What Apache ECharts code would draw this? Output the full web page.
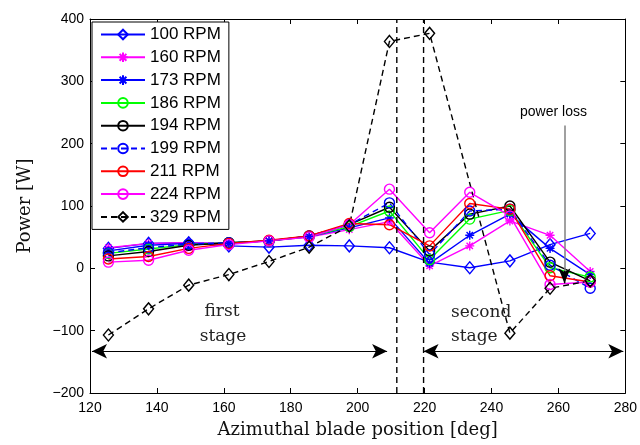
<!DOCTYPE html>
<html>
<head>
<meta charset="utf-8">
<script src="https://cdn.jsdelivr.net/npm/echarts@6/dist/echarts.min.js"></script>
<style>html,body{margin:0;padding:0;background:#fff}#c{width:640px;height:445px}</style>
</head>
<body>
<div id="c"></div>
<script>
// Azimuthal blade positions [deg]
const positions = [125.5, 137.5, 149.5, 161.5, 173.5, 185.5, 197.5, 209.5, 221.5, 233.5, 245.5, 257.5, 269.5];
// Power [W] per rotor speed
const rpm100 = [32, 40, 41, 36, 34, 37, 36, 33, 10, 1, 12, 38, 56];
const rpm160 = [33, 40, 41, 40, 44, 50, 62, 75, 4, 36, 76, 53, -5];
const rpm173 = [28, 37, 40, 40, 44, 51, 65, 81, 8, 53, 87, 32, -10];
const rpm186 = [24, 31, 38, 41, 44, 51, 67, 92, 14, 79, 93, 1, -14];
const rpm194 = [20, 27, 37, 41, 44, 52, 70, 98, 28, 87, 100, 10, -20];
const rpm199 = [25, 33, 39, 41, 44, 52, 70, 105, 22, 92, 95, 5, -32];
const rpm211 = [15, 19, 32, 40, 45, 52, 72, 70, 36, 104, 95, -12, -22];
const rpm224 = [10, 13, 29, 38, 44, 50, 70, 127, 57, 122, 84, -26, -22];
const rpm329 = [-107, -65, -27, -10, 11, 34, 68, 364, 377, null, -104, -32, -20];
const seriesNames = ['100 RPM', '160 RPM', '173 RPM', '186 RPM', '194 RPM', '199 RPM', '211 RPM', '224 RPM', '329 RPM'];
// Stage boundaries [deg]
const stageBounds = [211.7, 219.7];
// Stage arrows [deg] and level [W]
const firstStage = [120.6, 208.8];
const secondStage = [219.7, 279.4];
const arrowLevel = -133;
// Power loss annotation
const lossX = 261.8;
const lossTop = 229;
const lossTip = -24;

const starPath = 'path://M0,-10L0,10M-10,0L10,0M-7.07,-7.07L7.07,7.07M-7.07,7.07L7.07,-7.07';

function mk(name, vals, color, symbol, size, dashed) {
  return {
    name: name,
    type: 'line',
    data: positions.map((p, i) => [p, vals[i]]).filter(d => d[1] !== null),
    symbol: symbol,
    symbolSize: size,
    showSymbol: true,
    lineStyle: {color: color, width: 1.4, type: dashed ? [6, 4] : 'solid'},
    itemStyle: {color: 'rgba(0,0,0,0)', borderColor: color, borderWidth: 1.4},
    emphasis: {disabled: true},
    z: 2
  };
}

const series = [
  mk(seriesNames[0], rpm100, '#0000ff', 'diamond', [10, 12], false),
  mk(seriesNames[1], rpm160, '#ff00ff', starPath, 9, false),
  mk(seriesNames[2], rpm173, '#0000ff', starPath, 9, false),
  mk(seriesNames[3], rpm186, '#00ff00', 'circle', 10, false),
  mk(seriesNames[4], rpm194, '#000000', 'circle', 10, false),
  mk(seriesNames[5], rpm199, '#0000ff', 'circle', 10, true),
  mk(seriesNames[6], rpm211, '#ff0000', 'circle', 10, false),
  mk(seriesNames[7], rpm224, '#ff00ff', 'circle', 10, false),
  mk(seriesNames[8], rpm329, '#000000', 'diamond', [10, 12], true)
];

stageBounds.forEach((b, k) => {
  series.push({
    name: 'bound' + k,
    type: 'line',
    data: [[b, -200], [b, 400]],
    symbol: 'none',
    lineStyle: {color: '#000', width: 1.4, type: [6, 4]},
    emphasis: {disabled: true},
    z: 3
  });
});

series.push({
  name: 'annot',
  type: 'line',
  data: [],
  symbol: 'none',
  z: 4,
  markLine: {
    silent: true,
    animation: false,
    label: {show: false},
    emphasis: {disabled: true},
    data: [
      [{coord: [firstStage[0], arrowLevel], symbol: 'arrow', symbolSize: [11, 15]},
       {coord: [firstStage[1], arrowLevel], symbol: 'arrow', symbolSize: [11, 15]}],
      [{coord: [secondStage[0], arrowLevel], symbol: 'arrow', symbolSize: [11, 15]},
       {coord: [secondStage[1], arrowLevel], symbol: 'arrow', symbolSize: [11, 15]}],
      [{coord: [lossX, lossTop], symbol: 'none', lineStyle: {color: '#808080', width: 1.5}},
       {coord: [lossX, lossTip], symbol: 'none'}],
      [{coord: [lossX, lossTip + 20], symbol: 'none', lineStyle: {color: '#000', width: 1.2}},
       {coord: [lossX, lossTip], symbol: 'arrow', symbolSize: [9, 15]}]
    ],
    lineStyle: {color: '#000', width: 1.2, type: 'solid'}
  }
});

const sansFont = 'Liberation Sans';
const serifFont = 'DejaVu Serif';

const chart = echarts.init(document.getElementById('c'), null, {renderer: 'canvas'});
chart.setOption({
  animation: false,
  backgroundColor: '#fff',
  grid: {left: 90, right: 13, top: 19, bottom: 52, containLabel: false},
  legend: {
    data: seriesNames,
    orient: 'vertical',
    left: 92,
    top: 22,
    padding: [4, 8, 4, 8],
    itemWidth: 44,
    itemHeight: 12,
    itemGap: 5.8,
    backgroundColor: '#fff',
    borderColor: '#000',
    borderWidth: 1,
    borderRadius: 0,
    selectedMode: false,
    textStyle: {fontFamily: sansFont, fontSize: 17, color: '#000', lineHeight: 17}
  },
  xAxis: [{
    type: 'value', min: 120, max: 280, interval: 20,
    name: 'Azimuthal blade position [deg]',
    nameLocation: 'middle', nameGap: 28,
    nameTextStyle: {fontFamily: serifFont, fontSize: 18, color: '#111'},
    axisLine: {show: true, onZero: false, lineStyle: {color: '#000', width: 1}},
    axisTick: {show: true, inside: true, length: 5, lineStyle: {color: '#000'}},
    axisLabel: {fontFamily: sansFont, fontSize: 14, color: '#000', margin: 8},
    splitLine: {show: false}
  }, {
    type: 'value', min: 120, max: 280, interval: 20, position: 'top',
    axisLine: {show: true, onZero: false, lineStyle: {color: '#000', width: 1}},
    axisTick: {show: true, inside: true, length: 5, lineStyle: {color: '#000'}},
    axisLabel: {show: false},
    splitLine: {show: false}
  }],
  yAxis: [{
    type: 'value', min: -200, max: 400, interval: 100,
    name: 'Power [W]',
    nameLocation: 'middle', nameGap: 56,
    nameTextStyle: {fontFamily: serifFont, fontSize: 18, color: '#111'},
    axisLine: {show: true, onZero: false, lineStyle: {color: '#000', width: 1}},
    axisTick: {show: true, inside: true, length: 5, lineStyle: {color: '#000'}},
    axisLabel: {fontFamily: sansFont, fontSize: 14, color: '#000', margin: 6,
      formatter: v => String(v).replace('-', '\u2212')},
    splitLine: {show: false}
  }, {
    type: 'value', min: -200, max: 400, interval: 100, position: 'right',
    axisLine: {show: true, onZero: false, lineStyle: {color: '#000', width: 1}},
    axisTick: {show: true, inside: true, length: 5, lineStyle: {color: '#000'}},
    axisLabel: {show: false},
    splitLine: {show: false}
  }],
  series: series,
  graphic: [
    {type: 'text', left: 520, top: 105, z: 10,
      style: {text: 'power loss', font: '14px "Liberation Sans"', fill: '#000'}},
    {type: 'text', x: 222, y: 312, z: 10,
      style: {text: 'first', font: '17px "DejaVu Serif"', fill: '#222', align: 'center', verticalAlign: 'middle'}},
    {type: 'text', x: 223, y: 337, z: 10,
      style: {text: 'stage', font: '17px "DejaVu Serif"', fill: '#222', align: 'center', verticalAlign: 'middle'}},
    {type: 'text', x: 451, y: 313, z: 10,
      style: {text: 'second', font: '17px "DejaVu Serif"', fill: '#222', align: 'left', verticalAlign: 'middle'}},
    {type: 'text', x: 451, y: 337, z: 10,
      style: {text: 'stage', font: '17px "DejaVu Serif"', fill: '#222', align: 'left', verticalAlign: 'middle'}}
  ]
});
</script>
</body>
</html>
